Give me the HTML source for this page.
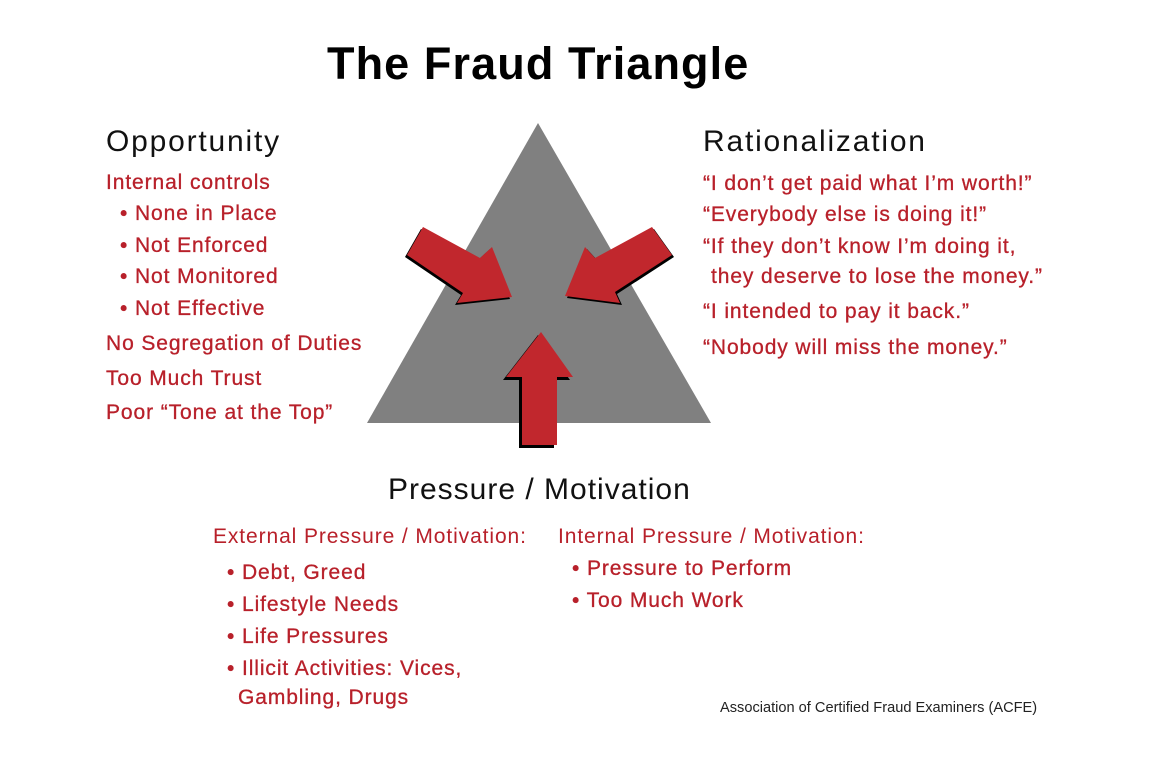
<!DOCTYPE html>
<html><head><meta charset="utf-8"><style>
body{margin:0;width:1155px;height:765px;background:#fff;position:relative;overflow:hidden;font-family:"Liberation Sans",sans-serif}
.t{position:absolute;white-space:nowrap;line-height:1}
.r{color:#b8202a;font-size:21px;letter-spacing:0.9px;-webkit-text-stroke:0.3px #b8202a}
.h{color:#111;font-size:30px;letter-spacing:1.8px}
</style></head><body>
<div class="t" style="left:327px;top:41px;font-size:45px;font-weight:bold;color:#000;letter-spacing:1.1px">The Fraud Triangle</div>
<svg style="position:absolute;left:0;top:0" width="1155" height="765">
<polygon points="538,123 367,423 711,423" fill="#808080"/>
<g fill="#000">
<polygon transform="translate(-2,2)" points="423,227 407,255 463,293 457,303 512,297 492,247 480,258"/>
<polygon transform="translate(2,2)" points="652,227 672,255 615,292 620,303 565,296 585,247 595,258"/>
<polygon transform="translate(-3,3)" points="541,332 506,377 522,377 522,445 557,445 557,377 573,377"/>
</g>
<g fill="#c1272d">
<polygon points="423,227 407,255 463,293 457,303 512,297 492,247 480,258"/>
<polygon points="652,227 672,255 615,292 620,303 565,296 585,247 595,258"/>
<polygon points="541,332 506,377 522,377 522,445 557,445 557,377 573,377"/>
</g>
</svg>
<div class="t h" style="left:106px;top:127px">Opportunity</div>
<div class="t r" style="left:106px;top:172px">Internal controls</div>
<div class="t r" style="left:120px;top:203px">• None in Place</div>
<div class="t r" style="left:120px;top:235px">• Not Enforced</div>
<div class="t r" style="left:120px;top:266px">• Not Monitored</div>
<div class="t r" style="left:120px;top:298px">• Not Effective</div>
<div class="t r" style="left:106px;top:333px">No Segregation of Duties</div>
<div class="t r" style="left:106px;top:368px">Too Much Trust</div>
<div class="t r" style="left:106px;top:402px">Poor “Tone at the Top”</div>

<div class="t h" style="left:703px;top:127px">Rationalization</div>
<div class="t r" style="left:703px;top:173px">“I don’t get paid what I’m worth!”</div>
<div class="t r" style="left:703px;top:204px">“Everybody else is doing it!”</div>
<div class="t r" style="left:703px;top:236px">“If they don’t know I’m doing it,</div>
<div class="t r" style="left:711px;top:266px">they deserve to lose the money.”</div>
<div class="t r" style="left:703px;top:301px">“I intended to pay it back.”</div>
<div class="t r" style="left:703px;top:337px">“Nobody will miss the money.”</div>

<div class="t h" style="left:388px;top:475px;letter-spacing:1px">Pressure / Motivation</div>
<div class="t r" style="left:213px;top:526px;-webkit-text-stroke:0">External Pressure / Motivation:</div>
<div class="t r" style="left:227px;top:562px">• Debt, Greed</div>
<div class="t r" style="left:227px;top:594px">• Lifestyle Needs</div>
<div class="t r" style="left:227px;top:626px">• Life Pressures</div>
<div class="t r" style="left:227px;top:658px">• Illicit Activities: Vices,</div>
<div class="t r" style="left:238px;top:687px">Gambling, Drugs</div>
<div class="t r" style="left:558px;top:526px;-webkit-text-stroke:0">Internal Pressure / Motivation:</div>
<div class="t r" style="left:572px;top:558px">• Pressure to Perform</div>
<div class="t r" style="left:572px;top:590px">• Too Much Work</div>
<div class="t" style="left:720px;top:701px;font-size:14.6px;color:#222">Association of Certified Fraud Examiners (ACFE)</div>
</body></html>
